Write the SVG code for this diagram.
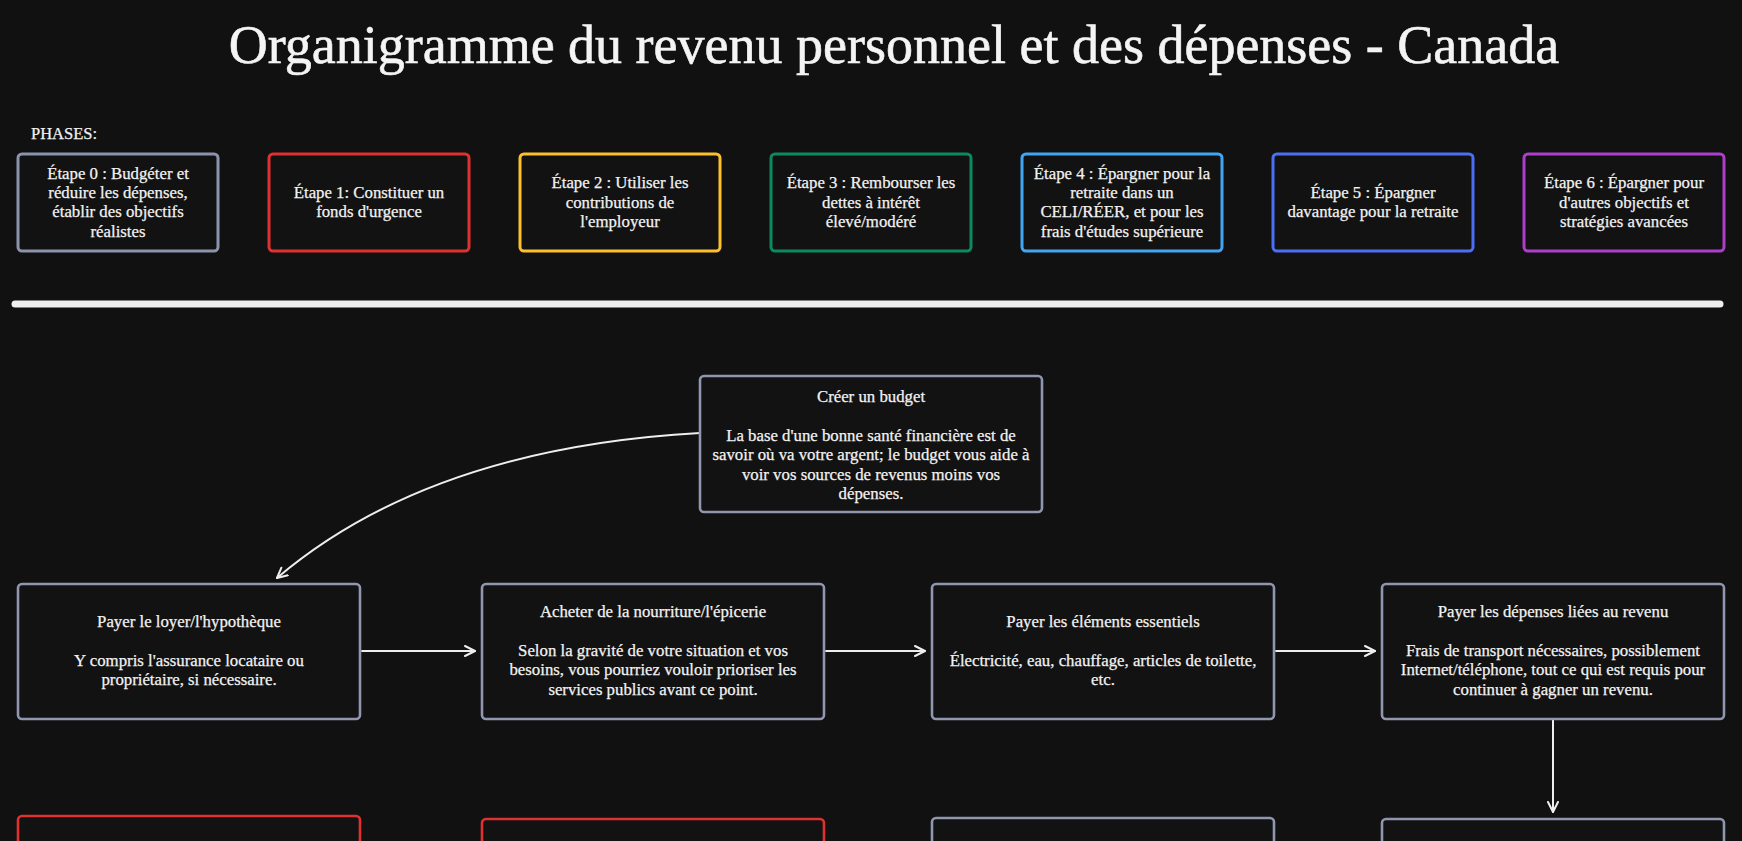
<svg xmlns="http://www.w3.org/2000/svg" width="1742" height="841" viewBox="0 0 1742 841">
<defs>
<style>
.t{font-family:"Liberation Serif","DejaVu Serif",serif;fill:#f2f2f2;text-anchor:middle;font-size:16.8px;stroke:#f2f2f2;stroke-width:0.25px}
.ph{fill:#121212;stroke-width:3}
.bx{fill:#121212;stroke-width:2.6}
.g{stroke:#9096b0}
.r{stroke:#e03131}
.cn{fill:none;stroke:#eeeeee;stroke-width:2;stroke-linecap:round}
</style>
<marker id="ah" viewBox="0 0 12 12" refX="11" refY="6" markerWidth="12" markerHeight="12" markerUnits="userSpaceOnUse" orient="auto">
<path d="M1,1 L11,6 L1,11" fill="none" stroke="#eeeeee" stroke-width="2" stroke-linecap="round" stroke-linejoin="round"/>
</marker>
</defs>
<rect x="0" y="0" width="1742" height="841" fill="#111111"/>
<text x="894" y="63" font-family="'Liberation Serif','DejaVu Serif',serif" font-size="54" fill="#f4f4f4" stroke="#f4f4f4" stroke-width="0.6" text-anchor="middle">Organigramme du revenu personnel et des dépenses - Canada</text>
<text x="31" y="139" font-family="'Liberation Serif','DejaVu Serif',serif" font-size="16.5" fill="#f2f2f2" stroke="#f2f2f2" stroke-width="0.25">PHASES:</text>

<g id="phase0"><rect class="ph" x="18" y="154" width="200" height="97" rx="4" stroke="#8c93ad"/>
<text class="t"><tspan x="118" y="179">Étape 0 : Budgéter et</tspan><tspan x="118" y="198">réduire les dépenses,</tspan><tspan x="118" y="217">établir des objectifs</tspan><tspan x="118" y="237">réalistes</tspan></text></g>
<g id="phase1"><rect class="ph" x="269" y="154" width="200" height="97" rx="4" stroke="#e03131"/>
<text class="t"><tspan x="369" y="198">Étape 1: Constituer un</tspan><tspan x="369" y="217">fonds d'urgence</tspan></text></g>
<g id="phase2"><rect class="ph" x="520" y="154" width="200" height="97" rx="4" stroke="#fcc02e"/>
<text class="t"><tspan x="620" y="188">Étape 2 : Utiliser les</tspan><tspan x="620" y="208">contributions de</tspan><tspan x="620" y="227">l'employeur</tspan></text></g>
<g id="phase3"><rect class="ph" x="771" y="154" width="200" height="97" rx="4" stroke="#0c8a5e"/>
<text class="t"><tspan x="871" y="188">Étape 3 : Rembourser les</tspan><tspan x="871" y="208">dettes à intérêt</tspan><tspan x="871" y="227">élevé/modéré</tspan></text></g>
<g id="phase4"><rect class="ph" x="1022" y="154" width="200" height="97" rx="4" stroke="#41a6f2"/>
<text class="t"><tspan x="1122" y="179">Étape 4 : Épargner pour la</tspan><tspan x="1122" y="198">retraite dans un</tspan><tspan x="1122" y="217">CELI/RÉER, et pour les</tspan><tspan x="1122" y="237">frais d'études supérieure</tspan></text></g>
<g id="phase5"><rect class="ph" x="1273" y="154" width="200" height="97" rx="4" stroke="#4c6ef5"/>
<text class="t"><tspan x="1373" y="198">Étape 5 : Épargner</tspan><tspan x="1373" y="217">davantage pour la retraite</tspan></text></g>
<g id="phase6"><rect class="ph" x="1524" y="154" width="200" height="97" rx="4" stroke="#ae3ec9"/>
<text class="t"><tspan x="1624" y="188">Étape 6 : Épargner pour</tspan><tspan x="1624" y="208">d'autres objectifs et</tspan><tspan x="1624" y="227">stratégies avancées</tspan></text></g>

<line x1="15" y1="304" x2="1720" y2="304" stroke="#efefef" stroke-width="7" stroke-linecap="round"/>

<g id="connectors">
<path class="cn" d="M700,433 Q430,448 277,578" marker-end="url(#ah)"/>
<line class="cn" x1="362" y1="651" x2="475" y2="651" marker-end="url(#ah)"/>
<line class="cn" x1="826" y1="651" x2="925" y2="651" marker-end="url(#ah)"/>
<line class="cn" x1="1276" y1="651" x2="1375" y2="651" marker-end="url(#ah)"/>
<line class="cn" x1="1553" y1="720" x2="1553" y2="812" marker-end="url(#ah)"/>
</g>

<g id="budget"><rect class="bx g" x="700" y="376" width="342" height="136" rx="4"/>
<text class="t"><tspan x="871" y="402">Créer un budget</tspan><tspan x="871" y="441">La base d'une bonne santé financière est de</tspan><tspan x="871" y="460">savoir où va votre argent; le budget vous aide à</tspan><tspan x="871" y="480">voir vos sources de revenus moins vos</tspan><tspan x="871" y="499">dépenses.</tspan></text></g>

<g id="loyer"><rect class="bx g" x="18" y="584" width="342" height="135" rx="4"/>
<text class="t"><tspan x="189" y="627">Payer le loyer/l'hypothèque</tspan><tspan x="189" y="666">Y compris l'assurance locataire ou</tspan><tspan x="189" y="685">propriétaire, si nécessaire.</tspan></text></g>

<g id="nourriture"><rect class="bx g" x="482" y="584" width="342" height="135" rx="4"/>
<text class="t"><tspan x="653" y="617">Acheter de la nourriture/l'épicerie</tspan><tspan x="653" y="656">Selon la gravité de votre situation et vos</tspan><tspan x="653" y="675">besoins, vous pourriez vouloir prioriser les</tspan><tspan x="653" y="695">services publics avant ce point.</tspan></text></g>

<g id="essentiels"><rect class="bx g" x="932" y="584" width="342" height="135" rx="4"/>
<text class="t"><tspan x="1103" y="627">Payer les éléments essentiels</tspan><tspan x="1103" y="666">Électricité, eau, chauffage, articles de toilette,</tspan><tspan x="1103" y="685">etc.</tspan></text></g>

<g id="revenu"><rect class="bx g" x="1382" y="584" width="342" height="135" rx="4"/>
<text class="t"><tspan x="1553" y="617">Payer les dépenses liées au revenu</tspan><tspan x="1553" y="656">Frais de transport nécessaires, possiblement</tspan><tspan x="1553" y="675">Internet/téléphone, tout ce qui est requis pour</tspan><tspan x="1553" y="695">continuer à gagner un revenu.</tspan></text></g>

<g id="row2a"><rect class="bx r" x="18" y="816" width="342" height="135" rx="4"/></g>
<g id="row2b"><rect class="bx r" x="482" y="819" width="342" height="135" rx="4"/></g>
<g id="row2c"><rect class="bx g" x="932" y="818" width="342" height="135" rx="4"/></g>
<g id="row2d"><rect class="bx g" x="1382" y="819" width="342" height="135" rx="4"/></g>
</svg>
